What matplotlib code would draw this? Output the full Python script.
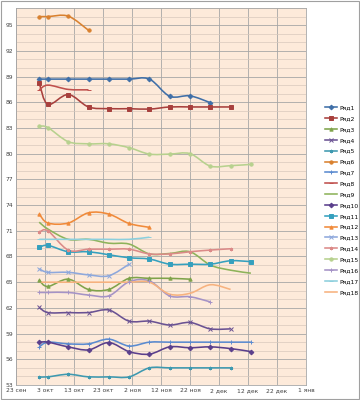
import datetime as dt
import matplotlib
matplotlib.use("Agg")
import matplotlib.pyplot as plt
import matplotlib.dates as mdates
from matplotlib.path import Path
from matplotlib.patches import PathPatch, Rectangle
from matplotlib.lines import Line2D
from matplotlib.ticker import MultipleLocator

# weekly observation dates
DATES = [dt.date(2012, 10, 1), dt.date(2012, 10, 4), dt.date(2012, 10, 11),
         dt.date(2012, 10, 18), dt.date(2012, 10, 25), dt.date(2012, 11, 1),
         dt.date(2012, 11, 8), dt.date(2012, 11, 15), dt.date(2012, 11, 22),
         dt.date(2012, 11, 29), dt.date(2012, 12, 6), dt.date(2012, 12, 13)]

s1 = [88.7, 88.7, 88.7, 88.7, 88.7, 88.7, 88.7, 86.7, 86.75, 85.95]
s2 = [88.25, 85.75, 86.9, 85.45, 85.25, 85.25, 85.2, 85.45, 85.45, 85.45, 85.45]
s3 = [65.2, 64.5, 65.35, 64.15, 64.15, 65.45, 65.45, 65.45, 65.35]
s4 = [62.05, 61.45, 61.45, 61.45, 61.75, 60.45, 60.45, 60.0, 60.3, 59.55, 59.55]
s5 = [53.95, 53.95, 54.25, 53.95, 53.95, 53.95, 55.0, 55.0, 55.0, 55.0, 55.0]
s6 = [96.0, 96.0, 96.05, 94.4]
s7 = [57.45, 58.0, 57.8, 57.8, 58.35, 57.55, 58.0, 58.0, 58.0, 58.0, 58.0, 58.0]
s8 = [87.45, 88.0, 87.5, 87.45]
s9 = [72.0, 71.2, 70.0, 70.0, 69.55, 69.45, 68.3, 68.35, 68.55, 67.0, 66.4, 66.05]
s10 = [58.0, 58.0, 57.45, 57.1, 57.95, 56.9, 56.6, 57.45, 57.35, 57.45, 57.25, 56.9]
s11 = [69.05, 69.3, 68.55, 68.55, 68.2, 67.85, 67.7, 67.1, 67.1, 67.1, 67.5, 67.4]
s12 = [72.95, 71.9, 71.9, 73.1, 72.95, 71.85, 71.4]
s13 = [66.55, 66.15, 66.15, 65.85, 65.75, 67.1]
s14 = [70.85, 71.0, 68.75, 68.85, 68.85, 68.85, 68.3, 68.3, 68.55, 68.75, 68.9]
s15 = [83.2, 83.05, 81.4, 81.15, 81.15, 80.7, 79.95, 79.95, 80.0, 78.55, 78.6, 78.75]
s16 = [63.8, 63.8, 63.8, 63.5, 63.4, 65.05, 65.15, 63.4, 63.3, 62.7]
s17 = [70.0, 70.0, 70.0, 70.0, 70.0, 70.0, 70.25]
s18 = [65.0, 65.0, 65.0, 65.0, 65.0, 65.0, 65.0, 63.6, 63.7, 64.7, 64.15]

SERIES = [s1, s2, s3, s4, s5, s6, s7, s8, s9, s10, s11, s12, s13, s14, s15, s16, s17, s18]
NAMES = [f"Ряд{i}" for i in range(1, 19)]

COLORS = ["#3F6FA8", "#A8403D", "#7FA34A", "#6A5293", "#3E99B0", "#D9812F",
          "#5B8BD0", "#C0504D", "#8DB35A", "#5A3F8C", "#35A0BE", "#F08A3A",
          "#8EA8DC", "#DB8A88", "#B7D18E", "#A593C6", "#8CCFDD", "#F7B27E"]
MARKERS = ["D", "s", "^", "x", (6, 2, 0), "o", "+", "_", None, "D", "s", "^",
           "x", (6, 2, 0), "o", "+", "_", None]

X_TICKS = [dt.date(2012, 9, 23) + dt.timedelta(days=10 * k) for k in range(11)]
X_LABELS = ["23 сен", "3 окт", "13 окт", "23 окт", "2 ноя", "12 ноя",
            "22 ноя", "2 дек", "12 дек", "22 дек", "1 янв"]
Y_TICKS = list(range(53, 96, 3))


def smooth_path(xs, ys):
    # Excel-style smoothed line (Catmull-Rom as cubic Bezier)
    pts = list(zip(xs, ys))
    verts, codes = [pts[0]], [Path.MOVETO]
    n = len(pts)
    for i in range(n - 1):
        p0 = pts[i - 1] if i > 0 else pts[i]
        p1, p2 = pts[i], pts[i + 1]
        p3 = pts[i + 2] if i + 2 < n else pts[i + 1]
        c1 = (p1[0] + (p2[0] - p0[0]) / 6, p1[1] + (p2[1] - p0[1]) / 6)
        c2 = (p2[0] - (p3[0] - p1[0]) / 6, p2[1] - (p3[1] - p1[1]) / 6)
        verts += [c1, c2, p2]
        codes += [Path.CURVE4] * 3
    return Path(verts, codes)


fig = plt.figure(figsize=(3.6, 4.0), dpi=100, facecolor="white")
ax = fig.add_axes([16 / 360, 15 / 400, 290 / 360, 377 / 400])
ax.set_facecolor("#FDEADA")

handles = []
for vals, name, col, mk in zip(SERIES, NAMES, COLORS, MARKERS):
    xs = mdates.date2num(DATES[:len(vals)])
    ax.add_patch(PathPatch(smooth_path(xs, vals), fill=False, edgecolor=col,
                           lw=1.15, zorder=3))
    if mk is not None:
        ax.plot(xs, vals, linestyle="none", marker=mk, color=col, ms=2.4,
                mew=0.7, zorder=4)
    handles.append(Line2D([], [], color=col, lw=1.15, marker=mk, ms=2.4, mew=0.7))

ax.set_xlim(mdates.date2num(X_TICKS[0]), mdates.date2num(X_TICKS[-1]))
ax.set_ylim(53, 97)
ax.set_xticks(mdates.date2num(X_TICKS))
ax.set_xticklabels(X_LABELS)
ax.set_yticks(Y_TICKS)
ax.yaxis.set_minor_locator(MultipleLocator(1))
ax.tick_params(axis="both", which="both", length=0, labelsize=4.3,
               colors="#404040", pad=2)
ax.grid(which="major", color="#A6A6A6", lw=0.6, zorder=1)
ax.grid(which="minor", axis="y", color="#D8C8BC", lw=0.5, zorder=1)
ax.set_axisbelow(True)
for sp in ax.spines.values():
    sp.set_color("#A6A6A6")
    sp.set_linewidth(0.6)

fig.legend(handles, NAMES, loc="center left", bbox_to_anchor=(322 / 360, 0.50),
           frameon=False, fontsize=4.3, handlelength=2.0, handletextpad=0.4,
           labelspacing=0.95, borderpad=0)

fig.patches.append(Rectangle((0.002, 0.002), 0.996, 0.996, transform=fig.transFigure,
                             fill=False, edgecolor="#A0A0A0", lw=0.8))

fig.savefig("out.png", dpi=100, facecolor="white")
